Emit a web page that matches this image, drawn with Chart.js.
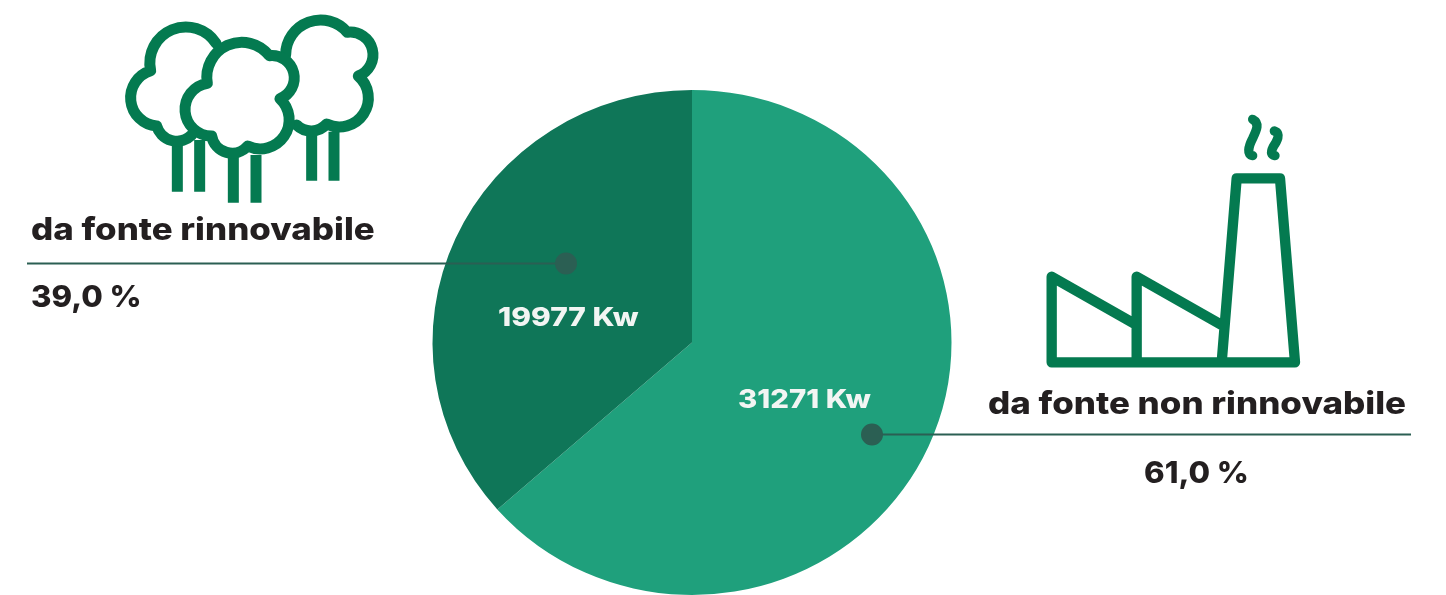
<!DOCTYPE html>
<html>
<head>
<meta charset="utf-8">
<title>Energia da fonte rinnovabile e non rinnovabile</title>
<script src="https://cdn.jsdelivr.net/npm/chart.js@4"></script>
<style>
    html, body { margin: 0; padding: 0; background: #fff; overflow: hidden; }
    #wrap { width: 1446px; height: 595px; }
</style>
</head>
<body>
<div id="wrap"><canvas id="pieChart" width="1446" height="595"></canvas></div>
<script>
// Data
const categories = ['da fonte non rinnovabile', 'da fonte rinnovabile'];
const powerLabels = ['31271 Kw', '19977 Kw'];
const percentLabels = ['61,0 %', '39,0 %'];
// Slice sizes as drawn in the picture (the split sits near 229 degrees, not the 61/39 printed)
const sliceShares = [63.5, 36.5];
const sliceColors = ['#1fa07c', '#0f7658'];

const iconGreen = '#047a50';
const textDark = '#231f20';
const leaderColor = '#2b5f53';

// Icons, traced in 3x units
const treeOutlines = [
    'M527 165A105 105 0 0 1 712 97A68 68 0 0 1 745 228A87 87 0 0 1 650 372A62 62 0 0 1 560 375',
    'M292 250A105 105 0 0 1 478 167A67 67 0 0 1 510 296A87 87 0 0 1 413 438A62 62 0 0 1 305 408A79.5 79.5 0 0 1 292 250Z',
    'M318 130A108 108 0 0 0 122 212A85 85 0 0 0 140 378A63 63 0 0 0 245 405',
];
const treeTrunks = 'M202 430V575M269 420V575M370 465V608M438 465V608M605 395V542M672 395V542';
const factoryOutline = 'M65 787V530L320 675M320 787V530L575 675M65 787H795L750 235H620L575 787';
const smokeOutline = 'M668 58C690 70 680 90 668 115C655 140 650 165 668 167M733 93C755 100 740 125 730 140C720 160 725 165 735 167';

// The pie in the picture is slightly flattened
const pieSquash = 0.973;

function wideText(ctx, text, x, y, stretch) {
    ctx.save();
    ctx.translate(x, y);
    ctx.scale(stretch, 1);
    ctx.fillText(text, 0, 0);
    ctx.restore();
}

const annotations = {
    id: 'annotations',
    beforeDatasetsDraw(chart) {
        const ctx = chart.ctx;
        const cy = (chart.chartArea.top + chart.chartArea.bottom) / 2;
        ctx.save();
        ctx.translate(0, cy);
        ctx.scale(1, pieSquash);
        ctx.translate(0, -cy);
    },
    afterDatasetsDraw(chart) {
        chart.ctx.restore();
    },
    afterDraw(chart) {
        const ctx = chart.ctx;
        ctx.save();

        // Tree icon
        ctx.save();
        ctx.translate(110, 0);
        ctx.scale(1 / 3, 1 / 3);
        ctx.strokeStyle = iconGreen;
        ctx.lineWidth = 33;
        ctx.stroke(new Path2D(treeTrunks));
        ctx.lineJoin = 'round';
        ctx.lineCap = 'round';
        treeOutlines.forEach(d => ctx.stroke(new Path2D(d)));
        ctx.restore();

        // Factory icon
        ctx.save();
        ctx.translate(1030, 100);
        ctx.scale(1 / 3, 1 / 3);
        ctx.strokeStyle = iconGreen;
        ctx.lineWidth = 31;
        ctx.lineJoin = 'round';
        ctx.lineCap = 'round';
        ctx.stroke(new Path2D(factoryOutline));
        ctx.lineWidth = 28;
        ctx.stroke(new Path2D(smokeOutline));
        ctx.restore();

        // Leader lines
        ctx.strokeStyle = leaderColor;
        ctx.fillStyle = leaderColor;
        ctx.lineWidth = 2;
        ctx.beginPath();
        ctx.moveTo(27, 263.5);
        ctx.lineTo(566, 263.5);
        ctx.moveTo(872, 434.5);
        ctx.lineTo(1411, 434.5);
        ctx.stroke();
        ctx.beginPath();
        ctx.arc(566, 263.5, 11, 0, Math.PI * 2);
        ctx.arc(872, 434.5, 11, 0, Math.PI * 2);
        ctx.fill();

        // Text
        ctx.textBaseline = 'alphabetic';
        ctx.fillStyle = textDark;
        ctx.font = '800 31px Inter';
        wideText(ctx, categories[1], 31, 240, 1.125);
        wideText(ctx, categories[0], 988, 414, 1.127);
        ctx.font = '800 30px Inter';
        wideText(ctx, percentLabels[1], 31, 307, 1.04);
        wideText(ctx, percentLabels[0], 1144, 483, 1.04);
        ctx.font = '800 26px Inter';
        ctx.fillStyle = '#f2f5f3';
        wideText(ctx, powerLabels[1], 498, 326, 1.15);
        wideText(ctx, powerLabels[0], 738, 408, 1.13);
        ctx.restore();
    }
};

new Chart(document.getElementById('pieChart').getContext('2d'), {
    type: 'pie',
    data: {
        labels: categories,
        datasets: [{
            data: sliceShares,
            backgroundColor: sliceColors,
            borderWidth: 0,
            radius: 259.5
        }]
    },
    options: {
        responsive: false,
        animation: false,
        layout: { padding: { top: 90, right: 62 } },
        plugins: {
            legend: { display: false },
            tooltip: { enabled: false }
        }
    },
    plugins: [annotations]
});
</script>
</body>
</html>
